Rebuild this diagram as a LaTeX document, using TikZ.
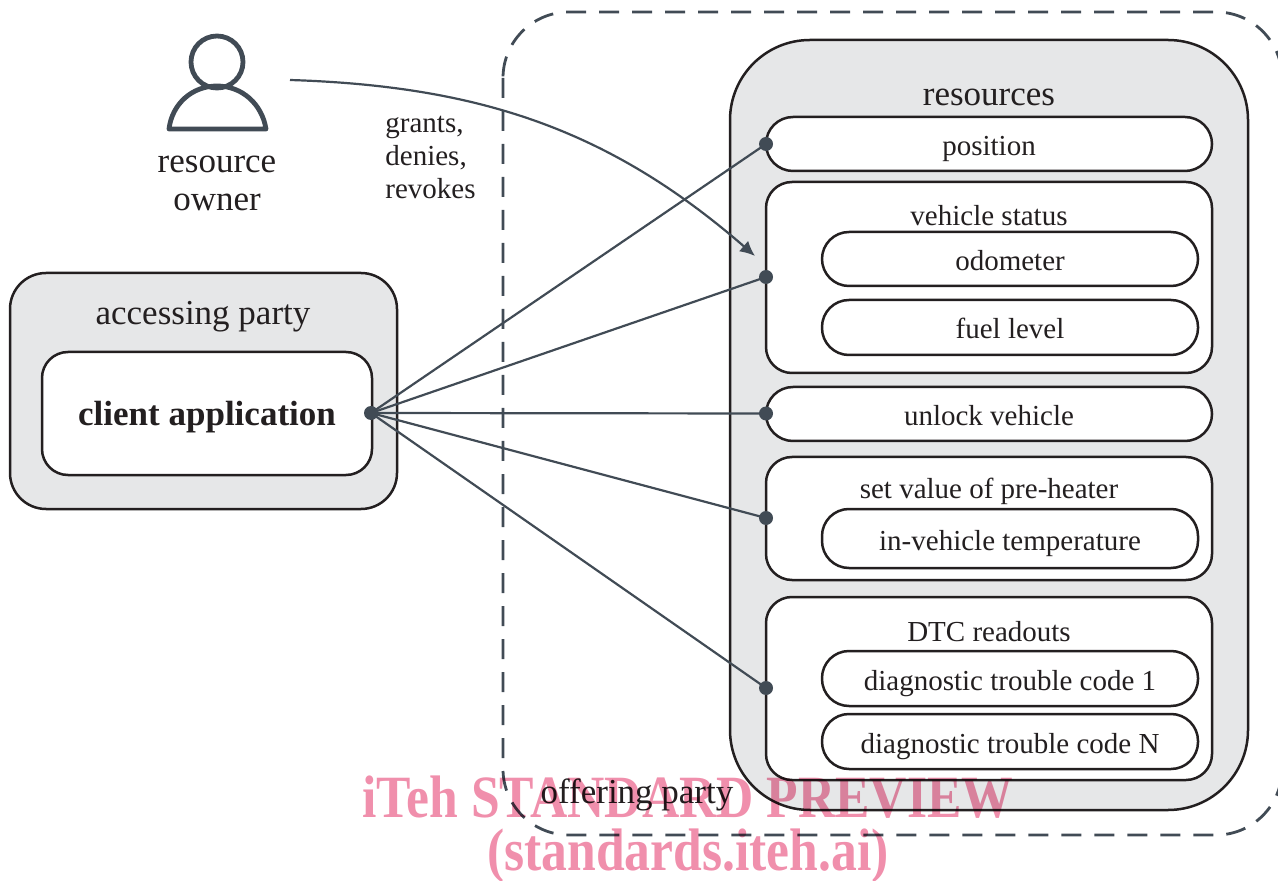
\documentclass[tikz,border=0pt]{standalone}
\usetikzlibrary{arrows.meta}
\usepackage{fontspec}
\setmainfont{Liberation Serif}
\definecolor{slate}{HTML}{414B55}
\definecolor{ink}{HTML}{231F20}
\definecolor{panel}{HTML}{E6E7E8}
\definecolor{stamp}{HTML}{F08FAC}
\newcommand{\squeezed}[1]{\scalebox{.86}[1]{#1}}
\tikzset{
  panelbox/.style={draw=ink,line width=1.25pt,fill=panel,inner sep=0pt},
  itembox/.style={draw=ink,line width=1.25pt,fill=white,inner sep=0pt,rounded corners=13pt},
  pill/.style={itembox,rounded corners=13.5pt,text=ink,text height=11.5pt,text depth=0pt,font=\fontsize{14.5}{17}\selectfont},
  title/.style={text=ink,inner sep=0pt,text height=10pt,text depth=0pt,font=\fontsize{14.5}{17}\selectfont},
  bigtitle/.style={text=ink,inner sep=0pt,align=center,font=\fontsize{17.5}{19}\selectfont},
  dot/.style={circle,fill=slate,inner sep=0pt,minimum size=7pt},
  link/.style={draw=slate,line width=1.1pt},
  stamptext/.style={text=stamp,inner sep=0pt,font=\fontsize{30}{33}\selectfont\bfseries}
}
\begin{document}
\begin{tikzpicture}[x=.5pt,y=-.5pt]
  \useasboundingbox (0,0) rectangle (1278,881);
  % offering party
  \draw[slate,line width=1.4pt,dash pattern=on 10pt off 6.5pt,rounded corners=33pt]
    (503,12) rectangle (1282,835);
  \node[bigtitle] (offering) at (637,795) {offering party};
  % resources
  \node[panelbox,rounded corners=40pt,minimum width=259pt,minimum height=385pt] (resources) at (989,425) {};
  \node[bigtitle] (resourcestitle) at (989,97) {resources};
  \node[pill,minimum width=223pt,minimum height=27pt] (position) at (989,144) {position};
  \node[itembox,minimum width=223pt,minimum height=95.5pt] (status) at (989,277.5) {};
  \node[title] (statustitle) at (989,216) {vehicle status};
  \node[pill,minimum width=188pt,minimum height=27pt] (odometer) at (1010,259) {odometer};
  \node[pill,minimum width=188pt,minimum height=27.5pt] (fuel) at (1010,327.5) {fuel level};
  \node[pill,minimum width=223pt,minimum height=27pt] (unlock) at (989,414) {unlock vehicle};
  \node[itembox,minimum width=223pt,minimum height=61.5pt] (heater) at (989,518.5) {};
  \node[title] (heatertitle) at (989,488) {set value of pre-heater};
  \node[pill,minimum width=188pt,minimum height=29.5pt] (temperature) at (1010,538.5) {in-vehicle temperature};
  \node[itembox,minimum width=223pt,minimum height=91.5pt] (dtc) at (989,688.5) {};
  \node[title] (dtctitle) at (989,631) {DTC readouts};
  \node[pill,minimum width=188pt,minimum height=27.5pt] (codeone) at (1010,678.5) {diagnostic trouble code 1};
  \node[pill,minimum width=188pt,minimum height=27.5pt] (coden) at (1010,741.5) {diagnostic trouble code N};
  % accessing party
  \node[panelbox,rounded corners=18pt,minimum width=193.5pt,minimum height=118pt] (accessing) at (203.5,391) {};
  \node[bigtitle] (accessingtitle) at (203,317) {accessing party};
  \node[itembox,minimum width=165pt,minimum height=61.5pt,text height=12.5pt,text depth=0pt,font=\fontsize{17.5}{20}\selectfont\bfseries,text=ink] (client) at (207,413.5) {client application};
  % resource owner
  \node[circle,draw=slate,line width=2.4pt,minimum size=26pt,inner sep=0pt] (head) at (217,62) {};
  \draw[slate,line width=2.4pt,line join=round]
    (169,129) .. controls (172,104) and (192,86) .. (217,86) .. controls (242,86) and (262,104) .. (266,129) -- cycle;
  \node[bigtitle] (owner) at (217,183) {resource\\owner};
  \node[text=ink,inner sep=0pt,align=left,anchor=north west,font=\fontsize{14.5}{16.5}\selectfont] (grants) at (385,116) {grants,\\denies,\\revokes};
  % connectors
  \node[dot] (hub) at (371,413) {};
  \node[dot] (dotposition) at (766,144) {};
  \node[dot] (dotstatus) at (766,277) {};
  \node[dot] (dotunlock) at (766,413.5) {};
  \node[dot] (dotheater) at (766,518) {};
  \node[dot] (dotdtc) at (766,688) {};
  \foreach \n in {dotposition,dotstatus,dotunlock,dotheater,dotdtc}
    \draw[link] (hub.center) -- (\n.center);
  \coordinate (ownerend) at (290,80);
  \coordinate (grantend) at (755,256);
  \draw[link,-{Latex[length=7.5pt,width=7pt]}] (ownerend) .. controls (480,86) and (610,130) .. (grantend);
  % watermark
  \begin{scope}[blend mode=multiply]
    \node[stamptext] (stampone) at (688,797) {\squeezed{iTeh STANDARD PREVIEW}};
    \node[stamptext] (stamptwo) at (688,856) {\squeezed{(standards.iteh.ai)}};
  \end{scope}
\end{tikzpicture}
\end{document}
